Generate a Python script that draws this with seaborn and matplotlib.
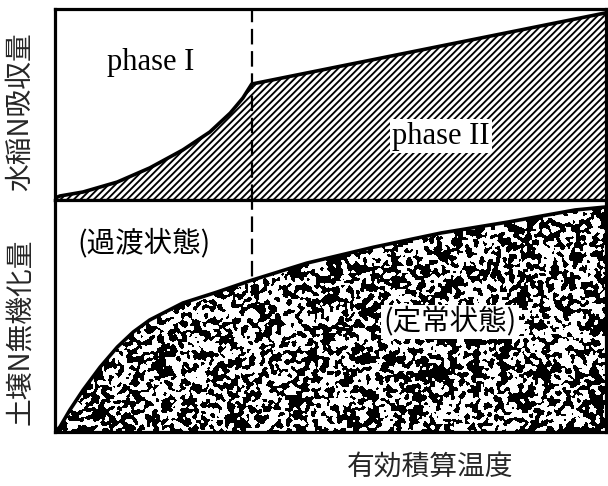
import numpy as np
import seaborn as sns
import matplotlib.pyplot as plt

# 有効積算温度 (相対値 0-100) と各曲線の読み取り値
temp_top = [0, 0.9, 5.1, 11.3, 17.2, 23.2, 28.1, 31.8, 34.1, 35.7, 100]
uptake = [1, 2.1, 4.2, 9.4, 16.8, 26.2, 35.6, 45.5, 53.4, 60.7, 98]

temp_bot = [0, 0.9, 2.7, 5.1, 8.2, 11.3, 14.2, 17.2, 23.2, 29.4, 35.8,
            45.7, 57.9, 70.1, 82.2, 94.4, 100]
mineral = [0, 2.2, 9.5, 18.1, 28.0, 36.6, 43.1, 48.3, 55.6, 60.3, 65.5,
           72.8, 79.7, 85.8, 90.5, 95.7, 97.0]

phase_boundary = 35.7

sns.set_theme(style="white")
plt.rcParams['font.family'] = ['Noto Sans CJK JP', 'DejaVu Sans']
plt.rcParams['hatch.linewidth'] = 1.35
plt.rcParams['hatch.color'] = 'black'

fig = plt.figure(figsize=(6.08, 4.86), dpi=100)
ax_top = fig.add_axes([55/608, 1-200/486, 551/608, 191/486])
ax_bot = fig.add_axes([55/608, 1-432/486, 551/608, 232/486])

for ax in (ax_top, ax_bot):
    ax.set_xlim(0, 100)
    ax.set_ylim(0, 100)
    ax.set_xticks([])
    ax.set_yticks([])
    for sp in ax.spines.values():
        sp.set_linewidth(2.3)
        sp.set_color('black')
        sp.set_zorder(10)

# --- 上段: 水稲N吸収量 (斜線) ---
ax_top.fill_between(temp_top, uptake, 0, facecolor='white', edgecolor='black',
                    hatch='/////', linewidth=0, zorder=1)
ax_top.axvline(phase_boundary, color='black', lw=1.6, ls=(0, (7, 3)), zorder=3)
sns.lineplot(x=temp_top, y=uptake, ax=ax_top, color='black', lw=2.6, zorder=4)
ax_top.set_xlim(0, 100)
ax_top.set_ylim(0, 100)
ax_top.set_xlabel('')
ax_top.set_ylabel('')

ax_top.text(17.4, 72, 'phase I', family='Liberation Serif', fontsize=22,
            ha='center', va='center', color='black')
ax_top.text(70, 33.5, 'phase II', family='Liberation Serif', fontsize=22,
            ha='center', va='center', color='black', zorder=6,
            bbox=dict(facecolor='white', edgecolor='none', pad=1.5))

# --- 下段: 土壌N無機化量 (斑点模様) ---
ax_bot.axvline(phase_boundary, color='black', lw=1.6, ls=(0, (7, 3)), zorder=1)
clip = ax_bot.fill_between(temp_bot, mineral, 0, facecolor='none', edgecolor='none')

# 斑点テクスチャ (塗りつぶしの模様のみ)
rng = np.random.default_rng(7)
h, w = 232, 551
noise = rng.standard_normal((h, w))
ky = np.fft.fftfreq(h)[:, None]
kx = np.fft.fftfreq(w)[None, :]
sigma = 1.45
smooth = np.real(np.fft.ifft2(np.fft.fft2(noise) * np.exp(-2 * np.pi**2 * sigma**2 * (kx**2 + ky**2))))
tex = (smooth > np.quantile(smooth, 0.5)).astype(float)
im = ax_bot.imshow(tex, cmap='gray', vmin=0, vmax=1, extent=[0, 100, 0, 100],
                   aspect='auto', interpolation='nearest', origin='lower', zorder=2)
im.set_clip_path(clip.get_paths()[0], transform=ax_bot.transData)

sns.lineplot(x=temp_bot, y=mineral, ax=ax_bot, color='black', lw=2.6, zorder=4)
ax_bot.set_xlim(0, 100)
ax_bot.set_ylim(0, 100)
ax_bot.set_xlabel('')
ax_bot.set_ylabel('')

ax_bot.text(16.2, 81.5, '(過渡状態)', fontsize=20.5, ha='center', va='center', color='black')
ax_bot.text(71.7, 47.5, '(定常状態)', fontsize=20.5, ha='center', va='center', color='black',
            zorder=6, bbox=dict(facecolor='white', edgecolor='none', pad=1.5))

# 軸ラベル
fig.text(20/608, 1-112/486, '水稲N吸収量', rotation=90, fontsize=20, ha='center', va='center')
fig.text(20/608, 1-332/486, '土壌N無機化量', rotation=90, fontsize=20, ha='center', va='center')
fig.text(430/608, 1-467/486, '有効積算温度', fontsize=20, ha='center', va='center')

fig.savefig('out.png', dpi=100)
